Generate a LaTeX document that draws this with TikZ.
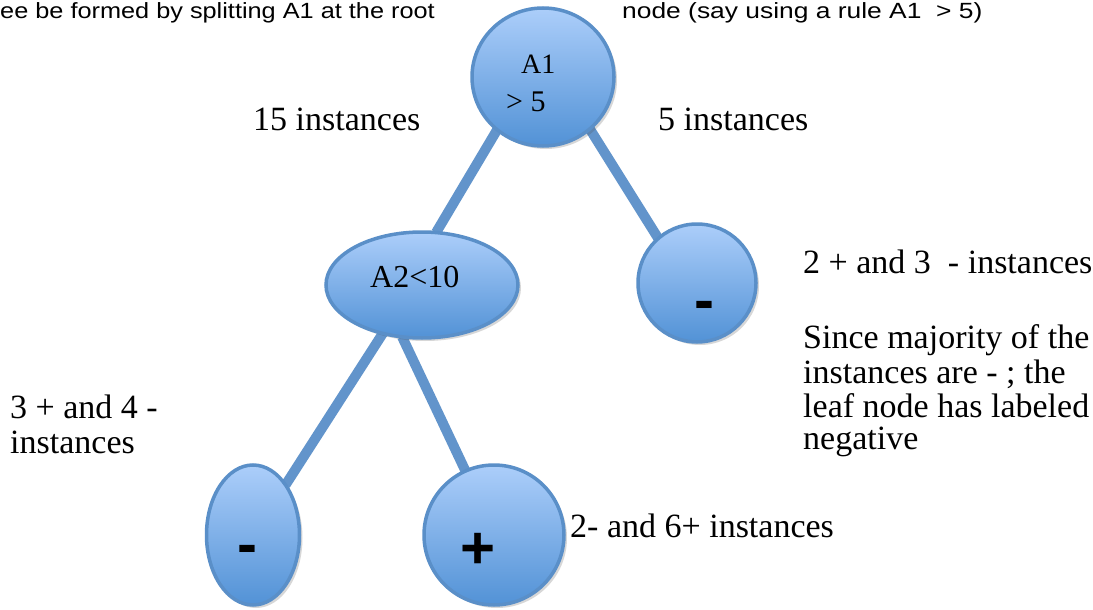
\documentclass[tikz,border=0pt]{standalone}
\usepackage{fontspec}
\setmainfont{Liberation Serif}
\newfontfamily\hdrfont{Liberation Sans}
\usetikzlibrary{shapes.geometric,shadows,backgrounds}
\definecolor{edgeblue}{RGB}{98,148,203}
\definecolor{bordblue}{RGB}{90,143,200}
\definecolor{topblue}{RGB}{172,206,250}
\definecolor{botblue}{RGB}{82,146,214}
\begin{document}
\begin{tikzpicture}[x=1pt,y=-1pt,
  bub/.style={ellipse, draw=bordblue, line width=3.5pt, top color=topblue, bottom color=botblue,
    inner sep=0pt, outer sep=0pt,
    drop shadow={opacity=0.22, shadow xshift=3pt, shadow yshift=-3pt, fill=black!70}},
  conn/.style={draw=edgeblue, line width=10pt},
  lbl/.style={anchor=base west, inner sep=0pt, font=\fontsize{34}{35}\selectfont},
  intxt/.style={anchor=base west, inner sep=0pt},
  sign/.style={anchor=base, inner sep=0pt, font=\hdrfont\bfseries\fontsize{60}{60}\selectfont},
  hdr/.style={anchor=base west, inner sep=0pt, font=\hdrfont\fontsize{22}{24}\selectfont}]
\useasboundingbox (0,0) rectangle (1093,610);

% nodes
\node[bub, minimum width=142pt, minimum height=138pt] (root) at (543,77) {};
\node[bub, minimum width=192pt, minimum height=106pt] (a2) at (422,285) {};
\node[bub, minimum width=118pt, minimum height=118pt] (rm) at (697,283) {};
\node[bub, minimum width=93pt, minimum height=140pt] (lm) at (253,535) {};
\node[bub, minimum width=140pt, minimum height=140pt] (pl) at (494,535) {};

% connectors (behind)
\begin{scope}[on background layer]
\fill[white] (0,0) rectangle (1093,610);
\draw[conn] (root.229) -- (a2.75);
\draw[conn] (root.312) -- (rm.131);
\draw[conn] (a2.231) -- (lm.57);
\draw[conn] (a2.249) -- (pl.114);
\end{scope}

% texts inside nodes
\node[intxt, font=\fontsize{28}{30}\selectfont] (r1) at (521,74) {A1};
\node[intxt, font=\fontsize{30}{30}\selectfont] (r2) at (506,111) {> 5};
\node[intxt, font=\fontsize{32}{34}\selectfont] (a2t) at (370,287) {A2<10};
\node[sign] (rms) at (704,320) {-};
\node[sign] (lms) at (247,564) {-};
\node[sign] (pls) at (478,568) {+};

% labels
\node[lbl] (l15) at (253,130) {15 instances};
\node[lbl] (l5) at (658,130) {5 instances};
\node[lbl] (lr0) at (803,273) {2 + and 3~ - instances};
\node[lbl] (lr1) at (803,348) {Since majority of the};
\node[lbl] (lr2) at (803,383) {instances are - ; the};
\node[lbl] (lr3) at (803,417) {leaf node has labeled};
\node[lbl] (lr4) at (803,449) {negative};
\node[lbl] (ll1) at (10,418) {3 + and 4 -};
\node[lbl] (ll2) at (10,453) {instances};
\node[lbl] (lpl) at (570,537) {2- and 6+ instances};

% header
\node[hdr] (h1) at (0,19) {\scalebox{1.15}[1]{ee be formed by splitting A1 at the root}};
\node[hdr] (h2) at (622,19) {\scalebox{1.2}[1]{node (say using a rule A1\ \ > 5)}};
\end{tikzpicture}
\end{document}
